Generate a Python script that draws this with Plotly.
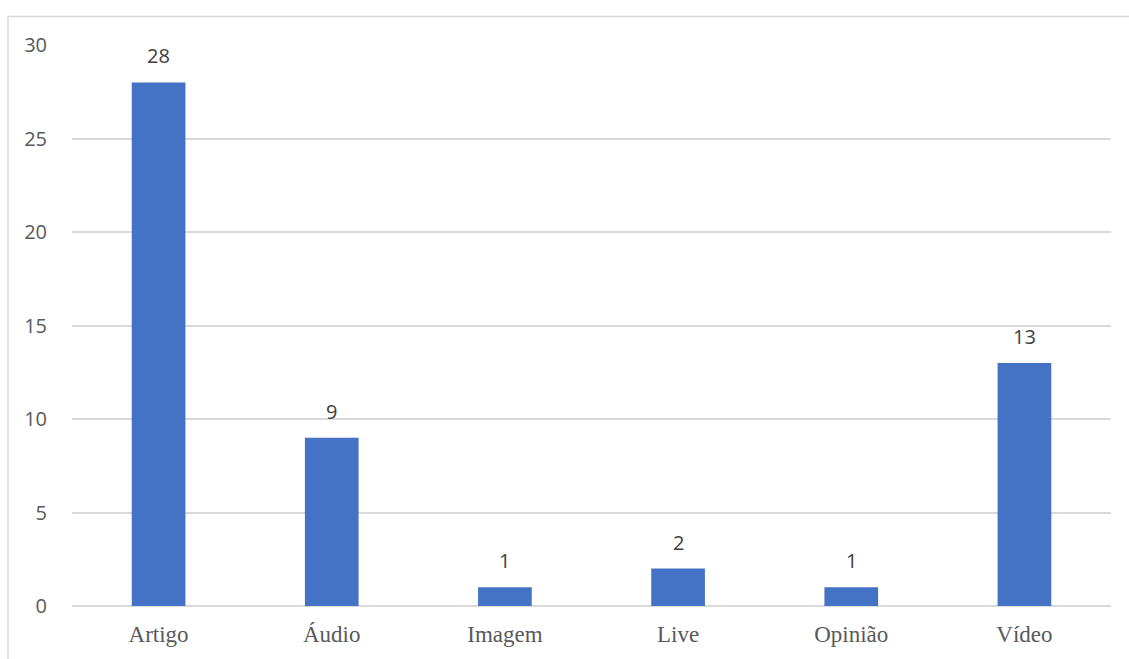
import plotly.graph_objects as go

categories = ["Artigo", "Áudio", "Imagem", "Live", "Opinião", "Vídeo"]
values = [28, 9, 1, 2, 1, 13]
y_ticks = [0, 5, 10, 15, 20, 25, 30]

W, H = 1129, 659
ml, mr, mt, mb = 72, 18, 45, 51
pw, ph = W - ml - mr, H - mt - mb

SANS = "Open Sans, Liberation Sans, Arial, sans-serif"

fig = go.Figure()
fig.add_trace(go.Bar(
    x=categories, y=values,
    marker=dict(color="#4472C4", line=dict(width=0)),
    hoverinfo="x+y",
))

for c, v in zip(categories, values):
    fig.add_annotation(
        x=c, y=v, text=str(v), showarrow=False,
        yanchor="bottom", yshift=11,
        font=dict(family=SANS, size=20, color="#404040"),
    )

# outer chart border
fig.add_shape(
    type="rect", xref="paper", yref="paper",
    x0=(8 - ml) / pw, x1=(W + 20 - ml) / pw,
    y0=-(mb + 20) / ph, y1=1 + (mt - 16.5) / ph,
    line=dict(color="#d9d9d9", width=1.5), fillcolor="rgba(0,0,0,0)", layer="below",
)

fig.update_layout(
    width=W, height=H,
    margin=dict(l=ml, r=mr, t=mt, b=mb),
    paper_bgcolor="white", plot_bgcolor="white",
    bargap=0.69,
    showlegend=False,
    xaxis=dict(
        showgrid=False, showline=False, zeroline=False, ticks="",
        tickfont=dict(family="Liberation Serif, Times New Roman, serif", size=23, color="#595959"),
        ticklabelstandoff=12,
    ),
    yaxis=dict(
        range=[0, 30], tickvals=y_ticks,
        showgrid=True, gridcolor="#d9d9d9", gridwidth=1.5,
        zeroline=True, zerolinecolor="#d9d9d9", zerolinewidth=1.5,
        showline=False, ticks="",
        tickfont=dict(family=SANS, size=20, color="#595959"),
        ticklabelstandoff=24,
    ),
)

fig.write_html("out.html")
